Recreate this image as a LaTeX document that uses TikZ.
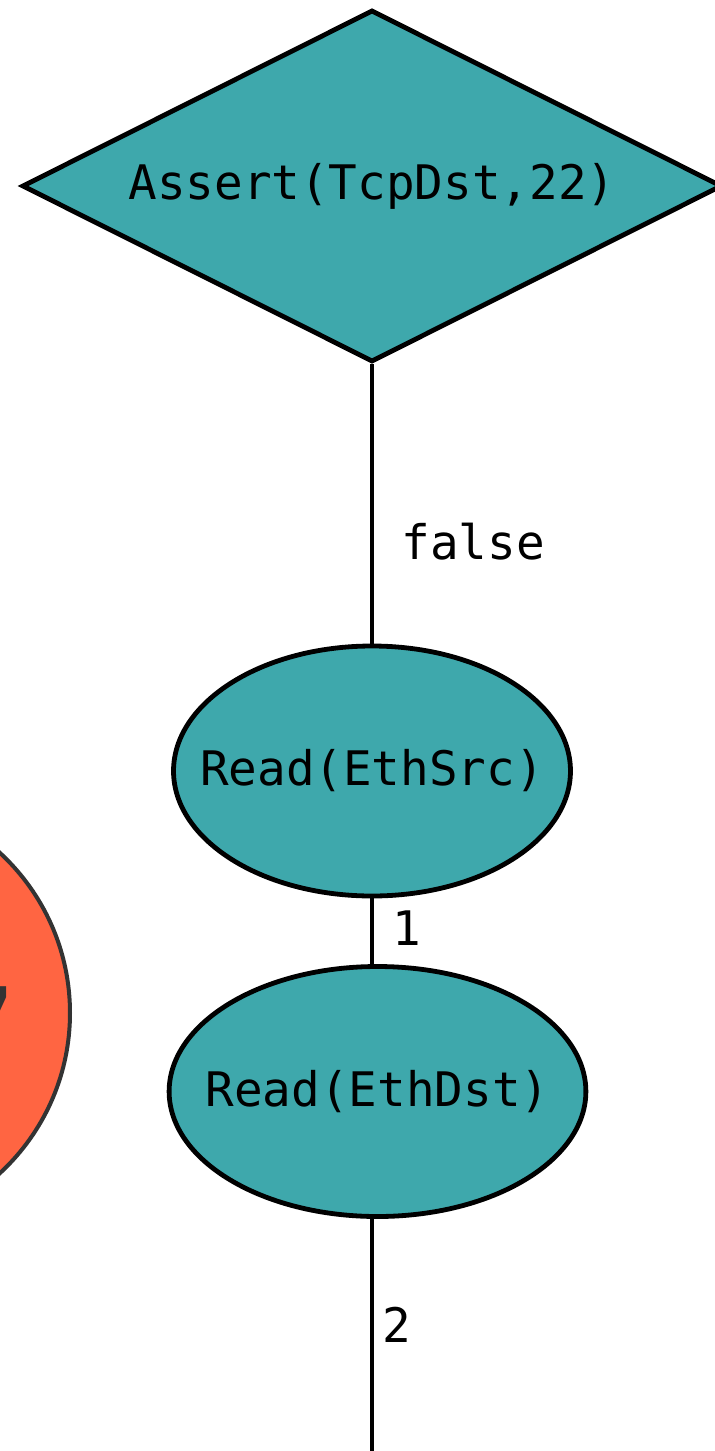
\documentclass[tikz,border=0pt]{standalone}
\usepackage{fontspec}
\setmonofont{DejaVu Sans Mono}
\newfontfamily\glyphfont{DejaVu Sans}
\usetikzlibrary{shapes.geometric}
\definecolor{teal1}{HTML}{3EA8AC}
\definecolor{tomato1}{HTML}{FF6542}
\definecolor{rim}{HTML}{333333}
\tikzset{
  lbl/.style={font=\ttfamily\fontsize{23.8pt}{28pt}\selectfont, inner sep=0pt},
  decision/.style={diamond, draw=black, line width=2.4pt, fill=teal1, inner sep=0pt, aspect=2, lbl},
  readnode/.style={ellipse, draw=black, line width=2.4pt, fill=teal1, inner ysep=0pt, lbl},
  edge/.style={draw=black, line width=2.4pt},
  elabel/.style={lbl, anchor=west}
}
\begin{document}
\begin{tikzpicture}[x=0.5pt, y=-0.5pt]
\useasboundingbox (0,0) rectangle (715,1451);
\clip (0,0) rectangle (715,1451);
\fill[white] (0,0) rectangle (715,1451);
% partially visible circle
\node[circle, draw=rim, line width=2pt, fill=tomato1, minimum size=436*0.5pt, inner sep=0pt] (c) at (-148,1013) {};
\node[anchor=east, text=rim, inner sep=0pt, font=\glyphfont\bfseries\fontsize{52pt}{60pt}\selectfont] (cg) at (15,1025) {7};
% main nodes
\node[decision, minimum width=700*0.5pt, minimum height=352*0.5pt] (a) at (372,186) {Assert(TcpDst,22)};
\node[readnode, inner xsep=-15.8pt, minimum height=250*0.5pt] (e1) at (372,771) {Read(EthSrc)};
\node[readnode, inner xsep=-12.3pt, minimum height=250*0.5pt] (e2) at (377.5,1091.5) {Read(EthDst)};
\coordinate (bot) at (372,1460);
% edges
\draw[edge] (a.south) -- (e1.north);
\draw[edge] (e1.south) -- (e1.south |- e2.north);
\draw[edge] (e2.south -| bot) -- (bot);
% edge labels
\node[elabel] (lf) at (401,542) {false};
\node[elabel] (l1) at (392,928) {1};
\node[elabel] (l2) at (382,1325) {2};
\end{tikzpicture}
\end{document}
